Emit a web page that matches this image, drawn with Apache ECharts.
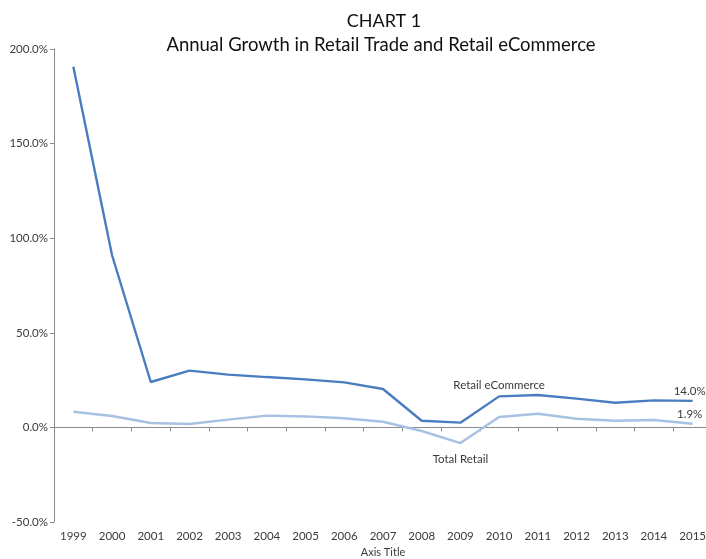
<!DOCTYPE html>
<html>
<head>
<meta charset="utf-8">
<script src="https://cdn.jsdelivr.net/npm/echarts@6/dist/echarts.min.js"></script>
<style>html,body{margin:0;padding:0;background:#fff}#c{width:706px;height:559px}</style>
</head>
<body>
<div id="c"></div>
<script>
var years = ['1999','2000','2001','2002','2003','2004','2005','2006','2007','2008','2009','2010','2011','2012','2013','2014','2015'];
var ecommerce = [190.6, 91.0, 24.0, 30.0, 27.9, 26.6, 25.4, 23.8, 20.3, 3.5, 2.5, 16.4, 17.1, 15.2, 13.0, 14.3, 14.0];
var totalRetail = [8.3, 6.0, 2.3, 1.8, 4.1, 6.2, 5.8, 4.8, 3.0, -1.9, -8.3, 5.5, 7.2, 4.6, 3.5, 3.9, 1.9];
var yTicks = [-50, 0, 50, 100, 150, 200];

var FONT = 'Lato';
var txt = '#3a3a3a';

function buildData(values, nameIdx, nameText, namePos, nameDist) {
  return values.map(function (v, i) {
    var item = { value: v };
    if (i === nameIdx) {
      item.label = { show: true, position: namePos, distance: nameDist, formatter: nameText, color: txt, fontFamily: FONT, fontSize: 11.5 };
    }
    if (i === values.length - 1) {
      item.label = { show: true, position: 'top', distance: 4, offset: [-3, 0], formatter: v.toFixed(1) + '%', color: txt, fontFamily: FONT, fontSize: 11.5 };
    }
    return item;
  });
}

var chart = echarts.init(document.getElementById('c'), null, { renderer: 'canvas' });
chart.setOption({
  animation: false,
  title: [
    { text: 'CHART 1', left: 379, top: 7, textAlign: 'center',
      textStyle: { fontFamily: FONT, fontWeight: 'normal', fontSize: 18, color: '#111' } },
    { text: 'Annual Growth in Retail Trade and Retail eCommerce', left: 376, top: 31, textAlign: 'center',
      textStyle: { fontFamily: FONT, fontWeight: 'normal', fontSize: 18.5, color: '#111' } }
  ],
  grid: { left: 54, right: -6, top: 49, bottom: 37, containLabel: false, outerBoundsMode: 'none' },
  xAxis: [
    {
      type: 'category', data: years, position: 'bottom', boundaryGap: true,
      axisLine: { show: false, onZero: false },
      axisTick: { show: false },
      axisLabel: { color: txt, fontFamily: FONT, fontSize: 11.5, margin: 8 },
      name: 'Axis Title', nameLocation: 'middle', nameGap: 25,
      nameTextStyle: { color: txt, fontFamily: FONT, fontSize: 11 }
    },
    {
      type: 'category', data: years, position: 'bottom', boundaryGap: true,
      axisLine: { show: true, onZero: true, onZeroAxisIndex: 0, lineStyle: { color: '#8c8c8c', width: 1 } },
      axisTick: { show: true, length: 4, alignWithLabel: false, lineStyle: { color: '#8c8c8c' } },
      axisLabel: { show: false }
    }
  ],
  yAxis: {
    type: 'value', min: yTicks[0], max: yTicks[yTicks.length - 1], interval: 50,
    axisLine: { show: true, lineStyle: { color: '#8c8c8c', width: 1 } },
    axisTick: { show: true, length: 4, lineStyle: { color: '#8c8c8c' } },
    splitLine: { show: false },
    axisLabel: { color: txt, fontFamily: FONT, fontSize: 11.5, margin: 6,
      formatter: function (v) { return v.toFixed(1) + '%'; } }
  },
  series: [
    {
      name: 'Retail eCommerce', type: 'line', xAxisIndex: 0,
      data: buildData(ecommerce, 11, 'Retail eCommerce', 'top', 5),
      symbol: 'circle', symbolSize: 0, showSymbol: true,
      lineStyle: { color: '#4a7dc0', width: 2.4 },
      itemStyle: { color: '#4a7dc0' },
      z: 3
    },
    {
      name: 'Total Retail', type: 'line', xAxisIndex: 0,
      data: buildData(totalRetail, 10, 'Total Retail', 'bottom', 10),
      symbol: 'circle', symbolSize: 0, showSymbol: true,
      lineStyle: { color: '#a7c1e3', width: 2.4 },
      itemStyle: { color: '#a7c1e3' },
      z: 2
    }
  ]
});
</script>
</body>
</html>
